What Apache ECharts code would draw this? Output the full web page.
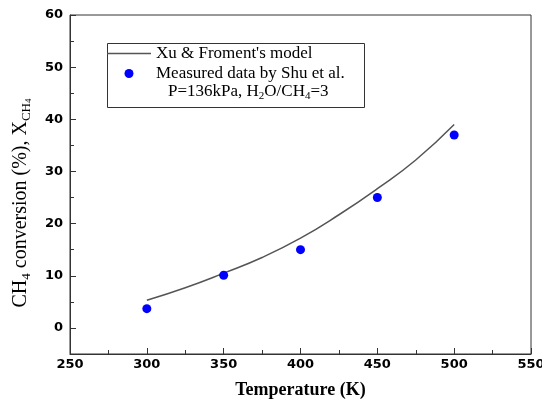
<!DOCTYPE html>
<html>
<head>
<meta charset="utf-8">
<script src="https://cdn.jsdelivr.net/npm/echarts@6/dist/echarts.min.js"></script>
<style>
  html, body { margin: 0; padding: 0; background: #fff; }
  #box { width: 542px; height: 400px; }
</style>
</head>
<body>
<div id="box"></div>
<script>
// model curve (Xu & Froment) and measured points (Shu et al.)
var modelT = [300, 325, 350, 375, 400, 425, 450, 475, 500];
var modelX = [5.3, 7.7, 10.5, 13.5, 17.2, 21.7, 26.7, 32.2, 39.0];
var measT = [300, 350, 400, 450, 500];
var measX = [3.7, 10.1, 15.0, 25.0, 37.0];
var yMajor = [0, 10, 20, 30, 40, 50, 60];
var yMinor = [5, 15, 25, 35, 45, 55];
var legendNames = ["Xu & Froment's model", 'Measured data by Shu et al.'];

var chartDom = document.getElementById('box');
var myChart = echarts.init(chartDom);

var tickFont = { fontFamily: 'DejaVu Sans', fontWeight: 'bold', fontSize: 13, color: '#000' };

var option = {
  animation: false,
  grid: {
    left: 70, right: 11, top: 15, bottom: 46,
    outerBoundsMode: 'none',
    containLabel: false,
    show: true, borderColor: '#333', borderWidth: 1
  },
  legend: {
    data: [
      { name: legendNames[0], icon: 'path://M0,0H44V1.5H0Z' },
      { name: legendNames[1], icon: 'circle' }
    ],
    orient: 'vertical',
    left: 107,
    top: 45,
    padding: 0,
    itemWidth: 44,
    itemHeight: 9,
    itemGap: 3,
    textStyle: { fontFamily: 'Liberation Serif', fontSize: 17, color: '#000' }
  },
  xAxis: {
    type: 'value',
    min: 250, max: 550, interval: 50,
    name: 'Temperature (K)',
    nameLocation: 'middle',
    nameGap: 27,
    nameTextStyle: { fontFamily: 'Liberation Serif', fontWeight: 'bold', fontSize: 18, color: '#000' },
    axisLine: { onZero: false, lineStyle: { color: '#333', width: 1 } },
    axisTick: { inside: true, length: 6, lineStyle: { color: '#333' } },
    minorTick: { show: true, splitNumber: 2, length: 4, lineStyle: { color: '#333' } },
    axisLabel: Object.assign({ margin: 4 }, tickFont),
    splitLine: { show: false }
  },
  yAxis: [
    {
      type: 'value',
      min: -5, max: 60, interval: 5,
      axisLine: { lineStyle: { color: '#333', width: 1 } },
      axisTick: { inside: true, length: 6, customValues: yMajor, lineStyle: { color: '#333' } },
      axisLabel: Object.assign({ margin: 7, customValues: yMajor }, tickFont),
      splitLine: { show: false }
    },
    {
      type: 'value',
      position: 'left',
      min: -5, max: 60, interval: 5,
      axisLine: { show: false },
      axisTick: { inside: true, length: 4, customValues: yMinor, lineStyle: { color: '#333' } },
      axisLabel: { show: false },
      splitLine: { show: false }
    }
  ],
  graphic: [
    {
      type: 'rect',
      silent: true,
      z: 1,
      shape: { x: 107.5, y: 43.5, width: 257, height: 64 },
      style: { fill: 'transparent', stroke: '#333', lineWidth: 1 }
    },
    {
      type: 'text',
      silent: true,
      x: 168, y: 92,
      style: {
        text: '{n|P=136kPa, H}{s|2}{n|O/CH}{s|4}{n|=3}',
        verticalAlign: 'middle',
        rich: {
          n: { fontFamily: 'Liberation Serif', fontSize: 17, lineHeight: 20, fill: '#000' },
          s: { fontFamily: 'Liberation Serif', fontSize: 11, lineHeight: 11, verticalAlign: 'bottom', fill: '#000' }
        }
      }
    },
    {
      type: 'text',
      silent: true,
      x: 21, y: 203,
      rotation: Math.PI / 2,
      style: {
        text: '{n|CH}{s|4}{n| conversion (%), X}{s|CH}{t|4}',
        align: 'center',
        verticalAlign: 'middle',
        rich: {
          n: { fontFamily: 'Liberation Serif', fontSize: 20, lineHeight: 24, fill: '#000' },
          s: { fontFamily: 'Liberation Serif', fontSize: 13, lineHeight: 13, verticalAlign: 'bottom', fill: '#000' },
          t: { fontFamily: 'Liberation Serif', fontSize: 9, lineHeight: 6, verticalAlign: 'bottom', fill: '#000' }
        }
      }
    }
  ],
  series: [
    {
      name: legendNames[0],
      type: 'line',
      smooth: true,
      symbol: 'none',
      data: modelT.map(function (t, i) { return [t, modelX[i]]; }),
      lineStyle: { color: '#555', width: 1.5 },
      itemStyle: { color: '#555' },
      z: 2
    },
    {
      name: legendNames[1],
      type: 'scatter',
      symbol: 'circle',
      symbolSize: 9,
      data: measT.map(function (t, i) { return [t, measX[i]]; }),
      itemStyle: { color: '#0000ff', opacity: 1 },
      z: 3
    }
  ]
};

option && myChart.setOption(option);
</script>
</body>
</html>
